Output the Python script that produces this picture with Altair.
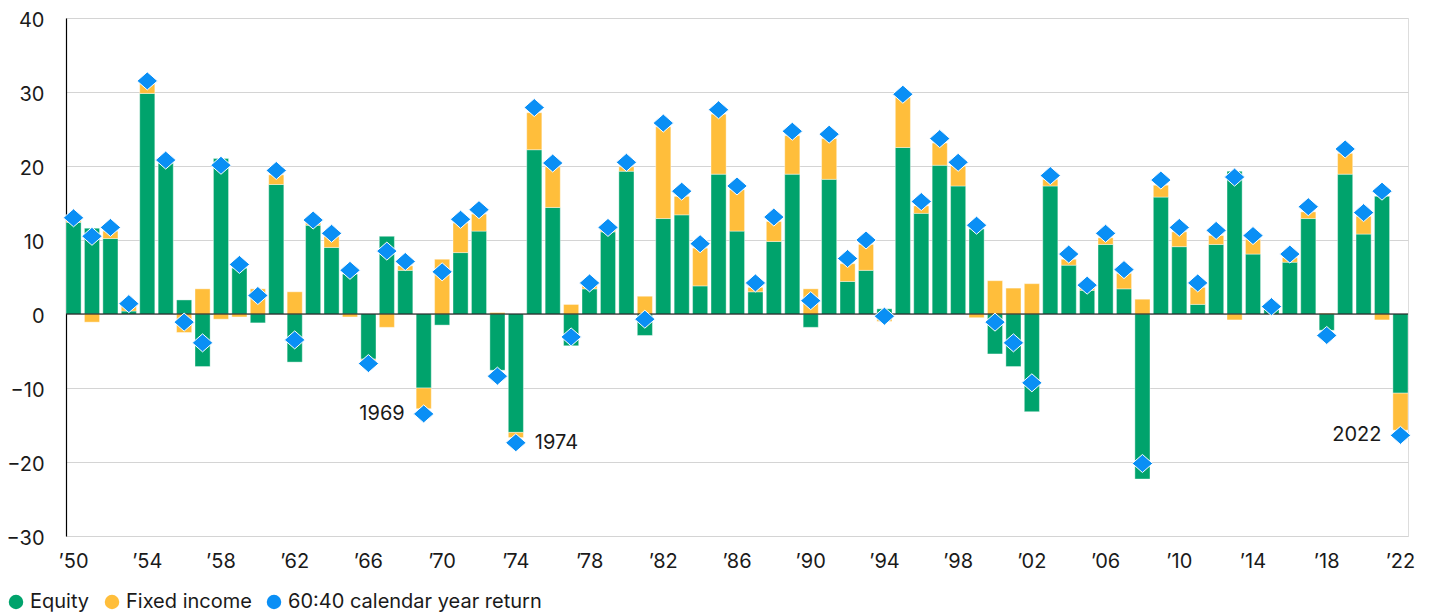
import altair as alt
import pandas as pd

years = list(range(1950, 2023))

equity = [12.4, 11.6, 10.2, 0.4, 29.8, 20.4, 1.9, -7.1, 21.0, 6.2,
          -1.2, 17.5, -6.5, 12.0, 9.0, 5.4, -6.1, 10.5, 5.9, -10.0,
          -1.5, 8.3, 11.2, -7.6, -16.0, 22.2, 14.4, -4.3, 3.4, 11.1,
          19.3, -2.9, 12.9, 13.4, 3.8, 18.9, 11.2, 3.0, 9.8, 18.9,
          -1.8, 18.2, 4.4, 5.9, 0.7, 22.5, 13.6, 20.1, 17.3, 11.5,
          -5.4, -7.1, -13.2, 17.3, 6.6, 3.2, 9.4, 3.4, -22.3, 15.8,
          9.1, 1.3, 9.4, 19.3, 8.1, 0.7, 7.0, 12.9, -2.2, 18.9,
          10.8, 15.9, -10.7]

fixed_income = [0.5, -1.1, 1.0, 1.0, 1.3, 0.2, -2.5, 3.4, -0.7, -0.4,
                3.4, 1.3, 3.0, 0.4, 1.5, -0.4, -0.2, -1.8, 0.6, -2.8,
                7.4, 4.0, 2.3, 0.2, -0.7, 5.0, 5.5, 1.3, 0.4, 0.3,
                0.6, 2.4, 12.4, 2.5, 5.1, 8.1, 5.6, 0.6, 2.7, 5.2,
                3.4, 5.5, 2.4, 3.5, -1.0, 6.8, 1.0, 3.0, 2.7, -0.5,
                4.5, 3.5, 4.1, 0.9, 0.8, 0.3, 0.9, 2.1, 2.0, 1.6,
                2.0, 2.3, 1.2, -0.8, 2.0, 0.2, 0.6, 0.9, 0.1, 2.8,
                2.4, -0.8, -5.0]

total_6040 = [13.0, 10.5, 11.7, 1.4, 31.5, 20.8, -1.1, -3.9, 20.1, 6.7,
              2.5, 19.4, -3.5, 12.7, 10.9, 5.9, -6.7, 8.5, 7.1, -13.5,
              5.7, 12.8, 14.1, -8.4, -17.4, 27.9, 20.4, -3.1, 4.2, 11.7,
              20.5, -0.7, 25.8, 16.6, 9.5, 27.6, 17.3, 4.2, 13.1, 24.7,
              1.8, 24.3, 7.5, 10.0, -0.3, 29.7, 15.2, 23.7, 20.5, 12.0,
              -1.1, -3.9, -9.3, 18.7, 8.1, 3.9, 10.9, 6.0, -20.2, 18.1,
              11.7, 4.2, 11.3, 18.5, 10.6, 1.0, 8.1, 14.5, -2.9, 22.3,
              13.7, 16.6, -16.4]

series_names = ["Equity", "Fixed income", "60:40 calendar year return"]
series_colors = ["#00A36C", "#FFBE3B", "#0A8FF5"]

annot_years = [1969, 1974, 2022]
annot_align = ["right", "left", "right"]

tick_years = list(range(1950, 2023, 4))

FONT = "Inter"
TXT = "#1a1a1a"

rows = []
for i, y in enumerate(years):
    rows.append({"year": y, "series": "Equity", "value": equity[i], "ord": 0})
    rows.append({"year": y, "series": "Fixed income", "value": fixed_income[i], "ord": 1})
bars_df = pd.DataFrame(rows)
tot_df = pd.DataFrame({"year": years, "total": total_6040})
ann_df = tot_df[tot_df["year"].isin(annot_years)].copy()
ann_df["label"] = ann_df["year"].astype(str)
ann_df["align"] = [annot_align[annot_years.index(v)] for v in ann_df["year"]]

x_enc = alt.X("year:O", title=None,
              scale=alt.Scale(paddingInner=0.18, paddingOuter=0),
              axis=alt.Axis(values=tick_years, labelAngle=0, ticks=False, domain=False,
                            labelExpr="'\u2019' + substring(datum.label, 2)",
                            labelFont=FONT, labelFontSize=20, labelColor=TXT,
                            labelPadding=15, grid=False))
y_scale = alt.Scale(domain=[-30, 40], nice=False)

bars = alt.Chart(bars_df).mark_bar(stroke="white", strokeWidth=0.4).encode(
    x=x_enc,
    y=alt.Y("value:Q", stack="zero", scale=y_scale, title=None,
            axis=alt.Axis(values=list(range(-30, 41, 10)), ticks=False,
                          domain=True, domainColor="black", domainWidth=1.2,
                          grid=True, gridColor="#d4d4d4", gridWidth=1.2,
                          labelFont=FONT, labelFontSize=20, labelColor=TXT,
                          labelPadding=22, labelOffset=2)),
    color=alt.Color("series:N",
                    scale=alt.Scale(domain=series_names, range=series_colors),
                    legend=alt.Legend(title=None, orient="none", direction="horizontal",
                                      legendX=-60, legendY=574,
                                      symbolType="circle", symbolSize=210,
                                      symbolStrokeWidth=0, labelLimit=500,
                                      labelFont=FONT, labelFontSize=20, labelColor=TXT,
                                      labelOffset=4, columnPadding=12)),
    order=alt.Order("ord:Q"),
)

zero = alt.Chart(pd.DataFrame({"v": [0]})).mark_rule(color="black", strokeWidth=1.2).encode(
    y=alt.Y("v:Q", scale=y_scale))

diamonds = alt.Chart(tot_df).mark_point(
    shape="M-1,0L0,-0.88L1,0L0,0.88Z", filled=True, size=420,
    fill=series_colors[2], stroke="white", strokeWidth=1, opacity=1
).encode(x=alt.X("year:O"), y=alt.Y("total:Q", scale=y_scale))

ann_r = alt.Chart(ann_df[ann_df["align"] == "right"]).mark_text(
    align="right", baseline="middle", dx=-19, font=FONT, fontSize=20, color=TXT
).encode(x=alt.X("year:O"), y=alt.Y("total:Q", scale=y_scale), text="label:N")
ann_l = alt.Chart(ann_df[ann_df["align"] == "left"]).mark_text(
    align="left", baseline="middle", dx=19, font=FONT, fontSize=20, color=TXT
).encode(x=alt.X("year:O"), y=alt.Y("total:Q", scale=y_scale), text="label:N")

chart = alt.layer(bars, zero, diamonds, ann_r, ann_l).properties(
    width=1342, height=518,
    autosize=alt.AutoSizeParams(type="none"),
    padding={"left": 58, "top": 10, "right": 10, "bottom": 77},
).configure_view(stroke=None).configure(font=FONT)

chart.save("out.html", embed_options={"renderer": "svg", "actions": False})
